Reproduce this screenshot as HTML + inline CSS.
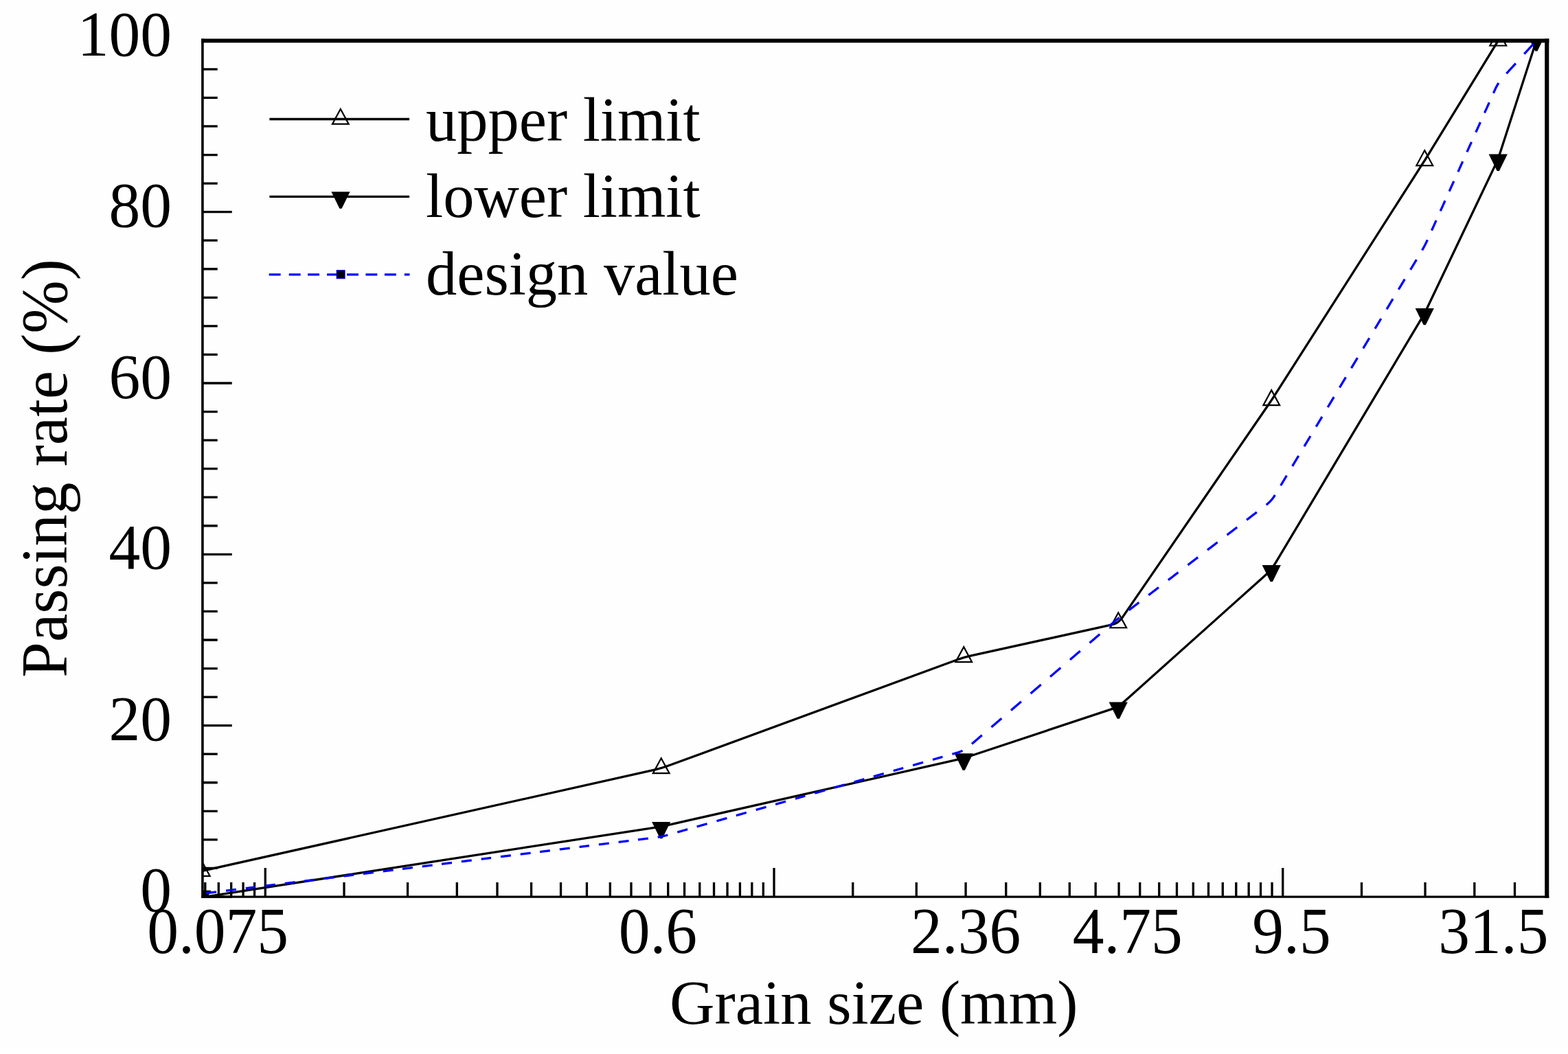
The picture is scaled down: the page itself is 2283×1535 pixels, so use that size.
<!DOCTYPE html><html><head><meta charset="utf-8"><title>Grain size distribution</title><style>html,body{margin:0;padding:0;background:#fff;overflow:hidden;width:2283px;height:1535px;}svg{display:block;}text{font-family:'Liberation Serif',serif;fill:#000;}</style></head><body>
<svg width="2283" height="1535" viewBox="0 0 2283 1535">
<rect x="0" y="0" width="2283" height="1527" fill="#fefefe"/>
<rect x="0" y="1527" width="2283" height="8" fill="#ffffff"/>
<defs><clipPath id="pc"><rect x="295.0" y="59.3" width="1957.3" height="1246.7"/></clipPath></defs>
<path d="M295.0 1306.00 H337.7 M295.0 1264.44 H316.7 M295.0 1222.89 H316.7 M295.0 1181.33 H316.7 M295.0 1139.77 H316.7 M295.0 1098.22 H316.7 M295.0 1056.66 H337.7 M295.0 1015.10 H316.7 M295.0 973.55 H316.7 M295.0 931.99 H316.7 M295.0 890.43 H316.7 M295.0 848.88 H316.7 M295.0 807.32 H337.7 M295.0 765.76 H316.7 M295.0 724.21 H316.7 M295.0 682.65 H316.7 M295.0 641.09 H316.7 M295.0 599.54 H316.7 M295.0 557.98 H337.7 M295.0 516.42 H316.7 M295.0 474.87 H316.7 M295.0 433.31 H316.7 M295.0 391.75 H316.7 M295.0 350.20 H316.7 M295.0 308.64 H337.7 M295.0 267.08 H316.7 M295.0 225.53 H316.7 M295.0 183.97 H316.7 M295.0 142.41 H316.7 M295.0 100.86 H316.7 M298.77 1306.0 V1285.0 M318.27 1306.0 V1285.0 M336.66 1306.0 V1285.0 M354.05 1306.0 V1285.0 M370.55 1306.0 V1285.0 M500.99 1306.0 V1285.0 M593.54 1306.0 V1285.0 M665.33 1306.0 V1285.0 M723.98 1306.0 V1285.0 M773.57 1306.0 V1285.0 M816.53 1306.0 V1285.0 M854.42 1306.0 V1285.0 M888.32 1306.0 V1285.0 M918.98 1306.0 V1285.0 M946.97 1306.0 V1285.0 M972.72 1306.0 V1285.0 M996.56 1306.0 V1285.0 M1018.76 1306.0 V1285.0 M1039.52 1306.0 V1285.0 M1059.02 1306.0 V1285.0 M1077.41 1306.0 V1285.0 M1094.80 1306.0 V1285.0 M1111.30 1306.0 V1285.0 M1241.74 1306.0 V1285.0 M1334.29 1306.0 V1285.0 M1406.08 1306.0 V1285.0 M1464.73 1306.0 V1285.0 M1514.32 1306.0 V1285.0 M1557.28 1306.0 V1285.0 M1595.17 1306.0 V1285.0 M1629.07 1306.0 V1285.0 M1659.73 1306.0 V1285.0 M1687.72 1306.0 V1285.0 M1713.47 1306.0 V1285.0 M1737.31 1306.0 V1285.0 M1759.51 1306.0 V1285.0 M1780.27 1306.0 V1285.0 M1799.77 1306.0 V1285.0 M1818.16 1306.0 V1285.0 M1835.55 1306.0 V1285.0 M1852.05 1306.0 V1285.0 M1982.49 1306.0 V1285.0 M2075.04 1306.0 V1285.0 M2146.83 1306.0 V1285.0 M2205.48 1306.0 V1285.0 M386.25 1306.0 V1264.0 M1127.00 1306.0 V1264.0 M1867.75 1306.0 V1264.0" fill="none" stroke="#000" stroke-width="3.3"/>
<g clip-path="url(#pc)">
<path d="M293.70 1268.60 L952.91 1121.18 Q962.67 1119.00 972.05 1115.55 L1393.85 960.75 Q1403.23 957.30 1413.00 955.15 L1618.49 909.95 Q1628.26 907.80 1633.92 899.56 L1845.59 591.24 Q1851.25 583.00 1856.63 574.57 L2068.85 242.23 Q2074.24 233.80 2079.47 225.28 L2181.27 59.30" fill="none" stroke="#000" stroke-width="3.3" stroke-linejoin="round"/>
<path d="M293.70 1253.80 L305.60 1275.80 L281.80 1275.80 Z" fill="none" stroke="#000" stroke-width="2.2" stroke-linejoin="miter"/>
<path d="M962.67 1104.19 L974.57 1126.19 L950.77 1126.19 Z" fill="none" stroke="#000" stroke-width="2.2" stroke-linejoin="miter"/>
<path d="M1403.23 942.12 L1415.13 964.12 L1391.33 964.12 Z" fill="none" stroke="#000" stroke-width="2.2" stroke-linejoin="miter"/>
<path d="M1628.26 892.26 L1640.16 914.26 L1616.36 914.26 Z" fill="none" stroke="#000" stroke-width="2.2" stroke-linejoin="miter"/>
<path d="M1851.25 568.11 L1863.15 590.11 L1839.35 590.11 Z" fill="none" stroke="#000" stroke-width="2.2" stroke-linejoin="miter"/>
<path d="M2074.24 219.04 L2086.14 241.04 L2062.34 241.04 Z" fill="none" stroke="#000" stroke-width="2.2" stroke-linejoin="miter"/>
<path d="M2181.27 44.50 L2193.17 66.50 L2169.37 66.50 Z" fill="none" stroke="#000" stroke-width="2.2" stroke-linejoin="miter"/>
<path d="M293.70 1306.80 L952.78 1205.32 Q962.67 1203.80 972.42 1201.59 L1393.48 1106.41 Q1403.23 1104.20 1412.73 1101.05 L1618.77 1032.65 Q1628.26 1029.50 1635.71 1022.83 L1843.80 836.47 Q1851.25 829.80 1856.37 821.21 L2069.11 464.89 Q2074.24 456.30 2078.54 447.27 L2176.97 240.63 Q2181.27 231.60 2184.34 222.08 L2236.87 59.30" fill="none" stroke="#000" stroke-width="3.3" stroke-linejoin="round"/>
<path d="M280.10 1296.70 L307.30 1296.70 L295.30 1321.10 L292.10 1321.10 Z" fill="#000"/>
<path d="M949.07 1196.96 L976.27 1196.96 L964.27 1221.36 L961.07 1221.36 Z" fill="#000"/>
<path d="M1389.63 1097.23 L1416.83 1097.23 L1404.83 1121.63 L1401.63 1121.63 Z" fill="#000"/>
<path d="M1614.66 1022.43 L1641.86 1022.43 L1629.86 1046.83 L1626.66 1046.83 Z" fill="#000"/>
<path d="M1837.65 822.95 L1864.85 822.95 L1852.85 847.35 L1849.65 847.35 Z" fill="#000"/>
<path d="M2060.64 448.94 L2087.84 448.94 L2075.84 473.34 L2072.64 473.34 Z" fill="#000"/>
<path d="M2167.67 224.54 L2194.87 224.54 L2182.87 248.94 L2179.67 248.94 Z" fill="#000"/>
<path d="M2223.27 50.00 L2250.47 50.00 L2238.47 74.40 L2235.27 74.40 Z" fill="#000"/>
<path d="M300.15 1300.80 L300.65 1300.74 L301.15 1300.68 L301.64 1300.62 L302.14 1300.55 L302.63 1300.49 L303.13 1300.43 L303.63 1300.37 L304.12 1300.31 L304.62 1300.25 L305.12 1300.19 L305.61 1300.12 L306.11 1300.06 L306.60 1300.00 L307.10 1299.94 L307.60 1299.88 L308.09 1299.82 L308.59 1299.76 L309.09 1299.69 L309.58 1299.63 L310.08 1299.57 L310.57 1299.51 L311.07 1299.45 L311.57 1299.39 L312.06 1299.32 L312.56 1299.26 L313.06 1299.20 L313.55 1299.14 L314.05 1299.08 L314.54 1299.02 L315.04 1298.96 M328.94 1297.23 L329.43 1297.17 L329.93 1297.11 L330.43 1297.05 L330.92 1296.99 L331.42 1296.93 L331.91 1296.86 L332.41 1296.80 L332.91 1296.74 L333.40 1296.68 L333.90 1296.62 L334.40 1296.56 L334.89 1296.50 L335.39 1296.43 L335.88 1296.37 L336.38 1296.31 L336.88 1296.25 L337.37 1296.19 L337.87 1296.13 L338.37 1296.07 L338.86 1296.00 L339.36 1295.94 L339.85 1295.88 L340.35 1295.82 L340.85 1295.76 L341.34 1295.70 L341.84 1295.63 L342.34 1295.57 L342.83 1295.51 L343.33 1295.45 L343.82 1295.39 M357.72 1293.67 L358.22 1293.61 L358.71 1293.54 L359.21 1293.48 L359.70 1293.42 L360.20 1293.36 L360.70 1293.30 L361.19 1293.24 L361.69 1293.17 L362.19 1293.11 L362.68 1293.05 L363.18 1292.99 L363.67 1292.93 L364.17 1292.87 L364.67 1292.81 L365.16 1292.74 L365.66 1292.68 L366.16 1292.62 L366.65 1292.56 L367.15 1292.50 L367.65 1292.44 L368.14 1292.38 L368.64 1292.31 L369.13 1292.25 L369.63 1292.19 L370.13 1292.13 L370.62 1292.07 L371.12 1292.01 L371.62 1291.94 L372.11 1291.88 M386.01 1290.16 L386.50 1290.10 L387.00 1290.04 L387.50 1289.98 L387.99 1289.92 L388.49 1289.85 L388.98 1289.79 L389.48 1289.73 L389.98 1289.67 L390.47 1289.61 L390.97 1289.55 L391.47 1289.48 L391.96 1289.42 L392.46 1289.36 L392.95 1289.30 L393.45 1289.24 L393.95 1289.18 L394.44 1289.12 L394.94 1289.05 L395.44 1288.99 L395.93 1288.93 L396.43 1288.87 L396.92 1288.81 L397.42 1288.75 L397.92 1288.69 L398.41 1288.62 L398.91 1288.56 L399.41 1288.50 L399.90 1288.44 L400.40 1288.38 L400.89 1288.32 M414.79 1286.59 L415.29 1286.53 L415.78 1286.47 L416.28 1286.41 L416.78 1286.35 L417.27 1286.29 L417.77 1286.23 L418.26 1286.16 L418.76 1286.10 L419.26 1286.04 L419.75 1285.98 L420.25 1285.92 L420.75 1285.86 L421.24 1285.79 L421.74 1285.73 L422.23 1285.67 L422.73 1285.61 L423.23 1285.55 L423.72 1285.49 L424.22 1285.43 L424.72 1285.36 L425.21 1285.30 L425.71 1285.24 L426.20 1285.18 L426.70 1285.12 L427.20 1285.06 L427.69 1285.00 L428.19 1284.93 L428.69 1284.87 L429.18 1284.81 L429.68 1284.75 M443.08 1283.09 L443.57 1283.03 L444.07 1282.97 L444.57 1282.90 L445.06 1282.84 L445.56 1282.78 L446.05 1282.72 L446.55 1282.66 L447.05 1282.60 L447.54 1282.54 L448.04 1282.47 L448.54 1282.41 L449.03 1282.35 L449.53 1282.29 L450.03 1282.23 L450.52 1282.17 L451.02 1282.10 L451.51 1282.04 L452.01 1281.98 L452.51 1281.92 L453.00 1281.86 L453.50 1281.80 L454.00 1281.74 L454.49 1281.67 L454.99 1281.61 L455.48 1281.55 L455.98 1281.49 L456.48 1281.43 L456.97 1281.37 L457.47 1281.31 L457.97 1281.24 M471.86 1279.52 L472.36 1279.46 L472.85 1279.40 L473.35 1279.34 L473.85 1279.28 L474.34 1279.21 L474.84 1279.15 L475.33 1279.09 L475.83 1279.03 L476.33 1278.97 L476.82 1278.91 L477.32 1278.85 L477.82 1278.78 L478.31 1278.72 L478.81 1278.66 L479.30 1278.60 L479.80 1278.54 L480.30 1278.48 L480.79 1278.42 L481.29 1278.35 L481.79 1278.29 L482.28 1278.23 L482.78 1278.17 L483.27 1278.11 L483.77 1278.05 L484.27 1277.98 L484.76 1277.92 L485.26 1277.86 L485.76 1277.80 L486.25 1277.74 L486.75 1277.68 M500.64 1275.96 L501.14 1275.89 L501.64 1275.83 L502.13 1275.77 L502.63 1275.71 L503.13 1275.65 L503.62 1275.59 L504.12 1275.52 L504.61 1275.46 L505.11 1275.40 L505.61 1275.34 L506.10 1275.28 L506.60 1275.22 L507.10 1275.16 L507.59 1275.09 L508.09 1275.03 L508.58 1274.97 L509.08 1274.91 L509.58 1274.85 L510.07 1274.79 L510.57 1274.73 L511.07 1274.66 L511.56 1274.60 L512.06 1274.54 L512.55 1274.48 L513.05 1274.42 L513.55 1274.36 L514.04 1274.29 L514.54 1274.23 L515.04 1274.17 M528.93 1272.45 L529.43 1272.39 L529.92 1272.33 L530.42 1272.27 L530.92 1272.20 L531.41 1272.14 L531.91 1272.08 L532.41 1272.02 L532.90 1271.96 L533.40 1271.90 L533.89 1271.83 L534.39 1271.77 L534.89 1271.71 L535.38 1271.65 L535.88 1271.59 L536.38 1271.53 L536.87 1271.47 L537.37 1271.40 L537.86 1271.34 L538.36 1271.28 L538.86 1271.22 L539.35 1271.16 L539.85 1271.10 L540.35 1271.04 L540.84 1270.97 L541.34 1270.91 L541.83 1270.85 L542.33 1270.79 L542.83 1270.73 L543.32 1270.67 L543.82 1270.60 M557.71 1268.88 L558.21 1268.82 L558.71 1268.76 L559.20 1268.70 L559.70 1268.64 L560.20 1268.58 L560.69 1268.51 L561.19 1268.45 L561.68 1268.39 L562.18 1268.33 L562.68 1268.27 L563.17 1268.21 L563.67 1268.14 L564.17 1268.08 L564.66 1268.02 L565.16 1267.96 L565.65 1267.90 L566.15 1267.84 L566.65 1267.78 L567.14 1267.71 L567.64 1267.65 L568.14 1267.59 L568.63 1267.53 L569.13 1267.47 L569.62 1267.41 L570.12 1267.35 L570.62 1267.28 L571.11 1267.22 L571.61 1267.16 L572.11 1267.10 L572.60 1267.04 M586.00 1265.38 L586.50 1265.32 L586.99 1265.25 L587.49 1265.19 L587.99 1265.13 L588.48 1265.07 L588.98 1265.01 L589.48 1264.95 L589.97 1264.89 L590.47 1264.82 L590.96 1264.76 L591.46 1264.70 L591.96 1264.64 L592.45 1264.58 L592.95 1264.52 L593.45 1264.45 L593.94 1264.39 L594.44 1264.33 L594.93 1264.27 L595.43 1264.21 L595.93 1264.15 L596.42 1264.09 L596.92 1264.02 L597.42 1263.96 L597.91 1263.90 L598.41 1263.84 L598.90 1263.78 L599.40 1263.72 L599.90 1263.66 L600.39 1263.59 L600.89 1263.53 M614.79 1261.81 L615.28 1261.75 L615.78 1261.69 L616.27 1261.63 L616.77 1261.56 L617.27 1261.50 L617.76 1261.44 L618.26 1261.38 L618.76 1261.32 L619.25 1261.26 L619.75 1261.20 L620.24 1261.13 L620.74 1261.07 L621.24 1261.01 L621.73 1260.95 L622.23 1260.89 L622.73 1260.83 L623.22 1260.76 L623.72 1260.70 L624.21 1260.64 L624.71 1260.58 L625.21 1260.52 L625.70 1260.46 L626.20 1260.40 L626.70 1260.33 L627.19 1260.27 L627.69 1260.21 L628.18 1260.15 L628.68 1260.09 L629.18 1260.03 L629.67 1259.97 M643.07 1258.30 L643.57 1258.24 L644.06 1258.18 L644.56 1258.12 L645.06 1258.06 L645.55 1258.00 L646.05 1257.94 L646.55 1257.87 L647.04 1257.81 L647.54 1257.75 L648.03 1257.69 L648.53 1257.63 L649.03 1257.57 L649.52 1257.51 L650.02 1257.44 L650.52 1257.38 L651.01 1257.32 L651.51 1257.26 L652.00 1257.20 L652.50 1257.14 L653.00 1257.07 L653.49 1257.01 L653.99 1256.95 L654.49 1256.89 L654.98 1256.83 L655.48 1256.77 L655.98 1256.71 L656.47 1256.64 L656.97 1256.58 L657.46 1256.52 L657.96 1256.46 M671.86 1254.74 L672.35 1254.68 L672.85 1254.62 L673.34 1254.55 L673.84 1254.49 L674.34 1254.43 L674.83 1254.37 L675.33 1254.31 L675.83 1254.25 L676.32 1254.18 L676.82 1254.12 L677.31 1254.06 L677.81 1254.00 L678.31 1253.94 L678.80 1253.88 L679.30 1253.82 L679.80 1253.75 L680.29 1253.69 L680.79 1253.63 L681.28 1253.57 L681.78 1253.51 L682.28 1253.45 L682.77 1253.39 L683.27 1253.32 L683.77 1253.26 L684.26 1253.20 L684.76 1253.14 L685.25 1253.08 L685.75 1253.02 L686.25 1252.95 L686.74 1252.89 M700.64 1251.17 L701.14 1251.11 L701.63 1251.05 L702.13 1250.99 L702.62 1250.93 L703.12 1250.86 L703.62 1250.80 L704.11 1250.74 L704.61 1250.68 L705.11 1250.62 L705.60 1250.56 L706.10 1250.49 L706.59 1250.43 L707.09 1250.37 L707.59 1250.31 L708.08 1250.25 L708.58 1250.19 L709.08 1250.13 L709.57 1250.06 L710.07 1250.00 L710.56 1249.94 L711.06 1249.88 L711.56 1249.82 L712.05 1249.76 L712.55 1249.70 L713.05 1249.63 L713.54 1249.57 L714.04 1249.51 L714.53 1249.45 L715.03 1249.39 M728.93 1247.67 L729.42 1247.60 L729.92 1247.54 L730.41 1247.48 L730.91 1247.42 L731.41 1247.36 L731.90 1247.30 L732.40 1247.24 L732.90 1247.17 L733.39 1247.11 L733.89 1247.05 L734.38 1246.99 L734.88 1246.93 L735.38 1246.87 L735.87 1246.80 L736.37 1246.74 L736.87 1246.68 L737.36 1246.62 L737.86 1246.56 L738.36 1246.50 L738.85 1246.44 L739.35 1246.37 L739.84 1246.31 L740.34 1246.25 L740.84 1246.19 L741.33 1246.13 L741.83 1246.07 L742.33 1246.01 L742.82 1245.94 L743.32 1245.88 L743.81 1245.82 M757.71 1244.10 L758.21 1244.04 L758.70 1243.98 L759.20 1243.91 L759.69 1243.85 L760.19 1243.79 L760.69 1243.73 L761.18 1243.67 L761.68 1243.61 L762.18 1243.55 L762.67 1243.48 L763.17 1243.42 L763.66 1243.36 L764.16 1243.30 L764.66 1243.24 L765.15 1243.18 L765.65 1243.11 L766.15 1243.05 L766.64 1242.99 L767.14 1242.93 L767.63 1242.87 L768.13 1242.81 L768.63 1242.75 L769.12 1242.68 L769.62 1242.62 L770.12 1242.56 L770.61 1242.50 L771.11 1242.44 L771.60 1242.38 L772.10 1242.32 L772.60 1242.25 M786.00 1240.59 L786.49 1240.53 L786.99 1240.47 L787.49 1240.41 L787.98 1240.35 L788.48 1240.29 L788.97 1240.22 L789.47 1240.16 L789.97 1240.10 L790.46 1240.04 L790.96 1239.98 L791.46 1239.92 L791.95 1239.86 L792.45 1239.79 L792.94 1239.73 L793.44 1239.67 L793.94 1239.61 L794.43 1239.55 L794.93 1239.49 L795.43 1239.42 L795.92 1239.36 L796.42 1239.30 L796.91 1239.24 L797.41 1239.18 L797.91 1239.12 L798.40 1239.06 L798.90 1238.99 L799.40 1238.93 L799.89 1238.87 L800.39 1238.81 L800.88 1238.75 M814.78 1237.03 L815.28 1236.96 L815.77 1236.90 L816.27 1236.84 L816.76 1236.78 L817.26 1236.72 L817.76 1236.66 L818.25 1236.60 L818.75 1236.53 L819.25 1236.47 L819.74 1236.41 L820.24 1236.35 L820.73 1236.29 L821.23 1236.23 L821.73 1236.17 L822.22 1236.10 L822.72 1236.04 L823.22 1235.98 L823.71 1235.92 L824.21 1235.86 L824.71 1235.80 L825.20 1235.73 L825.70 1235.67 L826.19 1235.61 L826.69 1235.55 L827.19 1235.49 L827.68 1235.43 L828.18 1235.37 L828.68 1235.30 L829.17 1235.24 L829.67 1235.18 M843.56 1233.46 L844.06 1233.40 L844.56 1233.34 L845.05 1233.28 L845.55 1233.21 L846.04 1233.15 L846.54 1233.09 L847.04 1233.03 L847.53 1232.97 L848.03 1232.91 L848.53 1232.84 L849.02 1232.78 L849.52 1232.72 L850.01 1232.66 L850.51 1232.60 L851.01 1232.54 L851.50 1232.48 L852.00 1232.41 L852.50 1232.35 L852.99 1232.29 L853.49 1232.23 L853.98 1232.17 L854.48 1232.11 L854.98 1232.05 L855.47 1231.98 L855.97 1231.92 L856.47 1231.86 L856.96 1231.80 L857.46 1231.74 L857.95 1231.68 M871.85 1229.95 L872.35 1229.89 L872.84 1229.83 L873.34 1229.77 L873.84 1229.71 L874.33 1229.65 L874.83 1229.59 L875.32 1229.52 L875.82 1229.46 L876.32 1229.40 L876.81 1229.34 L877.31 1229.28 L877.81 1229.22 L878.30 1229.15 L878.80 1229.09 L879.29 1229.03 L879.79 1228.97 L880.29 1228.91 L880.78 1228.85 L881.28 1228.79 L881.78 1228.72 L882.27 1228.66 L882.77 1228.60 L883.26 1228.54 L883.76 1228.48 L884.26 1228.42 L884.75 1228.36 L885.25 1228.29 L885.75 1228.23 L886.24 1228.17 L886.74 1228.11 M900.63 1226.39 L901.13 1226.33 L901.63 1226.26 L902.12 1226.20 L902.62 1226.14 L903.11 1226.08 L903.61 1226.02 L904.11 1225.96 L904.60 1225.90 L905.10 1225.83 L905.60 1225.77 L906.09 1225.71 L906.59 1225.65 L907.09 1225.59 L907.58 1225.53 L908.08 1225.46 L908.57 1225.40 L909.07 1225.34 L909.57 1225.28 L910.06 1225.22 L910.56 1225.16 L911.06 1225.10 L911.55 1225.03 L912.05 1224.97 L912.54 1224.91 L913.04 1224.85 L913.54 1224.79 L914.03 1224.73 L914.53 1224.67 L915.03 1224.60 L915.52 1224.54 M928.92 1222.88 L929.42 1222.82 L929.91 1222.76 L930.41 1222.70 L930.91 1222.64 L931.40 1222.57 L931.90 1222.51 L932.39 1222.45 L932.89 1222.39 L933.39 1222.33 L933.88 1222.27 L934.38 1222.21 L934.88 1222.14 L935.37 1222.08 L935.87 1222.02 L936.36 1221.96 L936.86 1221.90 L937.36 1221.84 L937.85 1221.77 L938.35 1221.71 L938.85 1221.65 L939.34 1221.59 L939.84 1221.53 L940.33 1221.47 L940.83 1221.41 L941.33 1221.34 L941.82 1221.28 L942.32 1221.22 L942.82 1221.16 L943.31 1221.10 L943.81 1221.04 M957.68 1219.22 L958.18 1219.14 L958.67 1219.06 L959.16 1218.97 L959.65 1218.88 L960.14 1218.80 L960.63 1218.71 L961.12 1218.61 L961.61 1218.52 L962.10 1218.42 L962.59 1218.32 L963.08 1218.22 L963.57 1218.12 L964.05 1218.02 L964.54 1217.91 L965.03 1217.81 L965.51 1217.70 L966.00 1217.58 L966.49 1217.47 L966.97 1217.36 L967.46 1217.24 L967.94 1217.12 L968.42 1217.00 L968.91 1216.88 L969.39 1216.75 L969.88 1216.63 L970.36 1216.50 L970.84 1216.37 L971.32 1216.24 L971.80 1216.10 L972.28 1215.97 M986.23 1212.00 L986.71 1211.87 L987.19 1211.73 L987.68 1211.59 L988.16 1211.46 L988.64 1211.32 L989.12 1211.18 L989.60 1211.05 L990.08 1210.91 L990.56 1210.77 L991.04 1210.64 L991.52 1210.50 L992.00 1210.36 L992.49 1210.23 L992.97 1210.09 L993.45 1209.95 L993.93 1209.82 L994.41 1209.68 L994.89 1209.54 L995.37 1209.41 L995.85 1209.27 L996.33 1209.13 L996.81 1209.00 L997.30 1208.86 L997.78 1208.72 L998.26 1208.59 L998.74 1208.45 L999.22 1208.31 L999.70 1208.18 L1000.18 1208.04 L1000.66 1207.90 L1001.14 1207.77 M1014.61 1203.94 L1015.09 1203.80 L1015.57 1203.67 L1016.05 1203.53 L1016.53 1203.39 L1017.01 1203.26 L1017.50 1203.12 L1017.98 1202.98 L1018.46 1202.85 L1018.94 1202.71 L1019.42 1202.57 L1019.90 1202.43 L1020.38 1202.30 L1020.86 1202.16 L1021.34 1202.02 L1021.82 1201.89 L1022.31 1201.75 L1022.79 1201.61 L1023.27 1201.48 L1023.75 1201.34 L1024.23 1201.20 L1024.71 1201.07 L1025.19 1200.93 L1025.67 1200.79 L1026.15 1200.66 L1026.63 1200.52 L1027.12 1200.38 L1027.60 1200.25 L1028.08 1200.11 L1028.56 1199.97 L1029.04 1199.84 L1029.52 1199.70 M1043.47 1195.74 L1043.95 1195.60 L1044.43 1195.46 L1044.91 1195.33 L1045.39 1195.19 L1045.87 1195.05 L1046.35 1194.92 L1046.84 1194.78 L1047.32 1194.64 L1047.80 1194.51 L1048.28 1194.37 L1048.76 1194.23 L1049.24 1194.10 L1049.72 1193.96 L1050.20 1193.82 L1050.68 1193.69 L1051.16 1193.55 L1051.64 1193.41 L1052.13 1193.28 L1052.61 1193.14 L1053.09 1193.00 L1053.57 1192.87 L1054.05 1192.73 L1054.53 1192.59 L1055.01 1192.46 L1055.49 1192.32 L1055.97 1192.18 L1056.45 1192.05 L1056.94 1191.91 L1057.42 1191.77 L1057.90 1191.64 L1058.38 1191.50 M1071.85 1187.67 L1072.33 1187.54 L1072.81 1187.40 L1073.29 1187.26 L1073.77 1187.13 L1074.25 1186.99 L1074.73 1186.85 L1075.21 1186.72 L1075.69 1186.58 L1076.17 1186.44 L1076.66 1186.31 L1077.14 1186.17 L1077.62 1186.03 L1078.10 1185.90 L1078.58 1185.76 L1079.06 1185.62 L1079.54 1185.49 L1080.02 1185.35 L1080.50 1185.21 L1080.98 1185.08 L1081.47 1184.94 L1081.95 1184.80 L1082.43 1184.67 L1082.91 1184.53 L1083.39 1184.39 L1083.87 1184.26 L1084.35 1184.12 L1084.83 1183.98 L1085.31 1183.85 L1085.79 1183.71 L1086.27 1183.57 L1086.76 1183.44 M1100.70 1179.47 L1101.18 1179.34 L1101.67 1179.20 L1102.15 1179.06 L1102.63 1178.93 L1103.11 1178.79 L1103.59 1178.65 L1104.07 1178.52 L1104.55 1178.38 L1105.03 1178.24 L1105.51 1178.11 L1105.99 1177.97 L1106.48 1177.83 L1106.96 1177.70 L1107.44 1177.56 L1107.92 1177.42 L1108.40 1177.29 L1108.88 1177.15 L1109.36 1177.01 L1109.84 1176.88 L1110.32 1176.74 L1110.80 1176.60 L1111.29 1176.47 L1111.77 1176.33 L1112.25 1176.19 L1112.73 1176.06 L1113.21 1175.92 L1113.69 1175.78 L1114.17 1175.65 L1114.65 1175.51 L1115.13 1175.37 L1115.61 1175.24 M1129.08 1171.41 L1129.56 1171.27 L1130.04 1171.13 L1130.52 1171.00 L1131.01 1170.86 L1131.49 1170.72 L1131.97 1170.59 L1132.45 1170.45 L1132.93 1170.31 L1133.41 1170.18 L1133.89 1170.04 L1134.37 1169.90 L1134.85 1169.77 L1135.33 1169.63 L1135.81 1169.49 L1136.30 1169.36 L1136.78 1169.22 L1137.26 1169.08 L1137.74 1168.95 L1138.22 1168.81 L1138.70 1168.67 L1139.18 1168.54 L1139.66 1168.40 L1140.14 1168.26 L1140.62 1168.13 L1141.11 1167.99 L1141.59 1167.85 L1142.07 1167.72 L1142.55 1167.58 L1143.03 1167.44 L1143.51 1167.31 L1143.99 1167.17 M1157.94 1163.21 L1158.42 1163.07 L1158.90 1162.93 L1159.38 1162.80 L1159.86 1162.66 L1160.34 1162.52 L1160.83 1162.39 L1161.31 1162.25 L1161.79 1162.11 L1162.27 1161.98 L1162.75 1161.84 L1163.23 1161.70 L1163.71 1161.57 L1164.19 1161.43 L1164.67 1161.29 L1165.15 1161.16 L1165.64 1161.02 L1166.12 1160.88 L1166.60 1160.75 L1167.08 1160.61 L1167.56 1160.47 L1168.04 1160.34 L1168.52 1160.20 L1169.00 1160.06 L1169.48 1159.93 L1169.96 1159.79 L1170.44 1159.65 L1170.93 1159.52 L1171.41 1159.38 L1171.89 1159.24 L1172.37 1159.11 M1186.32 1155.14 L1186.80 1155.01 L1187.28 1154.87 L1187.76 1154.73 L1188.24 1154.60 L1188.72 1154.46 L1189.20 1154.32 L1189.68 1154.19 L1190.16 1154.05 L1190.65 1153.91 L1191.13 1153.78 L1191.61 1153.64 L1192.09 1153.50 L1192.57 1153.37 L1193.05 1153.23 L1193.53 1153.09 L1194.01 1152.96 L1194.49 1152.82 L1194.97 1152.68 L1195.46 1152.55 L1195.94 1152.41 L1196.42 1152.27 L1196.90 1152.14 L1197.38 1152.00 L1197.86 1151.86 L1198.34 1151.73 L1198.82 1151.59 L1199.30 1151.45 L1199.78 1151.32 L1200.27 1151.18 L1200.75 1151.04 L1201.23 1150.91 M1214.69 1147.08 L1215.18 1146.94 L1215.66 1146.81 L1216.14 1146.67 L1216.62 1146.53 L1217.10 1146.40 L1217.58 1146.26 L1218.06 1146.12 L1218.54 1145.99 L1219.02 1145.85 L1219.50 1145.71 L1219.98 1145.58 L1220.47 1145.44 L1220.95 1145.30 L1221.43 1145.17 L1221.91 1145.03 L1222.39 1144.89 L1222.87 1144.76 L1223.35 1144.62 L1223.83 1144.48 L1224.31 1144.35 L1224.79 1144.21 L1225.28 1144.07 L1225.76 1143.94 L1226.24 1143.80 L1226.72 1143.66 L1227.20 1143.53 L1227.68 1143.39 L1228.16 1143.25 L1228.64 1143.12 L1229.12 1142.98 L1229.60 1142.84 M1243.55 1138.88 L1244.03 1138.74 L1244.51 1138.60 L1245.00 1138.47 L1245.48 1138.33 L1245.96 1138.19 L1246.44 1138.06 L1246.92 1137.92 L1247.40 1137.78 L1247.88 1137.65 L1248.36 1137.51 L1248.84 1137.37 L1249.32 1137.24 L1249.81 1137.10 L1250.29 1136.96 L1250.77 1136.83 L1251.25 1136.69 L1251.73 1136.55 L1252.21 1136.42 L1252.69 1136.28 L1253.17 1136.14 L1253.65 1136.01 L1254.13 1135.87 L1254.61 1135.73 L1255.10 1135.60 L1255.58 1135.46 L1256.06 1135.32 L1256.54 1135.19 L1257.02 1135.05 L1257.50 1134.91 L1257.98 1134.78 L1258.46 1134.64 M1271.93 1130.81 L1272.41 1130.68 L1272.89 1130.54 L1273.37 1130.40 L1273.85 1130.27 L1274.33 1130.13 L1274.82 1129.99 L1275.30 1129.86 L1275.78 1129.72 L1276.26 1129.58 L1276.74 1129.45 L1277.22 1129.31 L1277.70 1129.17 L1278.18 1129.04 L1278.66 1128.90 L1279.14 1128.76 L1279.63 1128.63 L1280.11 1128.49 L1280.59 1128.35 L1281.07 1128.22 L1281.55 1128.08 L1282.03 1127.94 L1282.51 1127.81 L1282.99 1127.67 L1283.47 1127.53 L1283.95 1127.40 L1284.43 1127.26 L1284.92 1127.12 L1285.40 1126.99 L1285.88 1126.85 L1286.36 1126.71 L1286.84 1126.58 M1300.79 1122.61 L1301.27 1122.48 L1301.75 1122.34 L1302.23 1122.20 L1302.71 1122.07 L1303.19 1121.93 L1303.67 1121.79 L1304.15 1121.66 L1304.64 1121.52 L1305.12 1121.38 L1305.60 1121.25 L1306.08 1121.11 L1306.56 1120.97 L1307.04 1120.84 L1307.52 1120.70 L1308.00 1120.56 L1308.48 1120.43 L1308.96 1120.29 L1309.45 1120.15 L1309.93 1120.02 L1310.41 1119.88 L1310.89 1119.74 L1311.37 1119.61 L1311.85 1119.47 L1312.33 1119.33 L1312.81 1119.20 L1313.29 1119.06 L1313.77 1118.92 L1314.26 1118.79 L1314.74 1118.65 L1315.22 1118.51 M1329.17 1114.55 L1329.65 1114.41 L1330.13 1114.28 L1330.61 1114.14 L1331.09 1114.00 L1331.57 1113.87 L1332.05 1113.73 L1332.53 1113.59 L1333.01 1113.46 L1333.49 1113.32 L1333.98 1113.18 L1334.46 1113.05 L1334.94 1112.91 L1335.42 1112.77 L1335.90 1112.64 L1336.38 1112.50 L1336.86 1112.36 L1337.34 1112.23 L1337.82 1112.09 L1338.30 1111.95 L1338.78 1111.82 L1339.27 1111.68 L1339.75 1111.54 L1340.23 1111.41 L1340.71 1111.27 L1341.19 1111.13 L1341.67 1111.00 L1342.15 1110.86 L1342.63 1110.72 L1343.11 1110.59 L1343.59 1110.45 L1344.08 1110.31 M1358.02 1106.35 L1358.50 1106.21 L1358.99 1106.07 L1359.47 1105.94 L1359.95 1105.80 L1360.43 1105.66 L1360.91 1105.53 L1361.39 1105.39 L1361.87 1105.25 L1362.35 1105.12 L1362.83 1104.98 L1363.31 1104.84 L1363.80 1104.71 L1364.28 1104.57 L1364.76 1104.43 L1365.24 1104.30 L1365.72 1104.16 L1366.20 1104.02 L1366.68 1103.89 L1367.16 1103.75 L1367.64 1103.61 L1368.12 1103.48 L1368.60 1103.34 L1369.09 1103.20 L1369.57 1103.07 L1370.05 1102.93 L1370.53 1102.79 L1371.01 1102.66 L1371.49 1102.52 L1371.97 1102.38 L1372.45 1102.25 M1386.40 1098.28 L1386.88 1098.15 L1387.36 1098.01 L1387.84 1097.87 L1388.32 1097.74 L1388.81 1097.60 L1389.29 1097.46 L1389.77 1097.33 L1390.25 1097.19 L1390.73 1097.05 L1391.21 1096.92 L1391.69 1096.78 L1392.17 1096.64 L1392.65 1096.51 L1393.13 1096.37 L1393.62 1096.23 L1394.10 1096.09 L1394.57 1095.95 L1395.05 1095.80 L1395.52 1095.65 L1395.99 1095.49 L1396.46 1095.33 L1396.92 1095.16 L1397.38 1094.99 L1397.84 1094.81 L1398.30 1094.63 L1398.75 1094.44 L1399.20 1094.25 L1399.65 1094.06 L1400.10 1093.86 L1400.54 1093.65 L1400.99 1093.44 L1401.43 1093.23 M1415.01 1083.40 L1415.39 1083.08 L1415.77 1082.75 L1416.15 1082.43 L1416.53 1082.10 L1416.91 1081.77 L1417.29 1081.45 L1417.67 1081.12 L1418.05 1080.79 L1418.43 1080.47 L1418.81 1080.14 L1419.19 1079.82 L1419.57 1079.49 L1419.95 1079.16 L1420.33 1078.84 L1420.71 1078.51 L1421.09 1078.19 L1421.47 1077.86 L1421.85 1077.53 L1422.23 1077.21 L1422.61 1076.88 L1422.99 1076.56 L1423.37 1076.23 L1423.75 1075.90 L1424.13 1075.58 L1424.51 1075.25 L1424.89 1074.93 L1425.27 1074.60 L1425.65 1074.27 L1426.03 1073.95 L1426.41 1073.62 L1426.79 1073.30 L1427.17 1072.97 L1427.55 1072.64 L1427.93 1072.32 L1428.31 1071.99 L1428.69 1071.67 L1429.07 1071.34 L1429.45 1071.01 L1429.83 1070.69 M1443.52 1058.95 L1443.90 1058.62 L1444.28 1058.30 L1444.66 1057.97 L1445.04 1057.65 L1445.42 1057.32 L1445.80 1056.99 L1446.18 1056.67 L1446.56 1056.34 L1446.94 1056.02 L1447.32 1055.69 L1447.70 1055.36 L1448.08 1055.04 L1448.46 1054.71 L1448.84 1054.38 L1449.22 1054.06 L1449.60 1053.73 L1449.98 1053.41 L1450.36 1053.08 L1450.74 1052.75 L1451.12 1052.43 L1451.50 1052.10 L1451.88 1051.78 L1452.26 1051.45 L1452.64 1051.12 L1453.02 1050.80 L1453.40 1050.47 L1453.78 1050.15 L1454.16 1049.82 L1454.54 1049.49 L1454.92 1049.17 L1455.30 1048.84 L1455.68 1048.52 L1456.06 1048.19 L1456.44 1047.86 L1456.82 1047.54 L1457.20 1047.21 L1457.58 1046.89 L1457.96 1046.56 L1458.34 1046.23 M1472.03 1034.50 L1472.41 1034.17 L1472.79 1033.84 L1473.17 1033.52 L1473.55 1033.19 L1473.93 1032.87 L1474.31 1032.54 L1474.69 1032.21 L1475.07 1031.89 L1475.45 1031.56 L1475.83 1031.24 L1476.21 1030.91 L1476.59 1030.58 L1476.97 1030.26 L1477.35 1029.93 L1477.73 1029.60 L1478.11 1029.28 L1478.49 1028.95 L1478.87 1028.63 L1479.25 1028.30 L1479.63 1027.97 L1480.01 1027.65 L1480.39 1027.32 L1480.77 1027.00 L1481.15 1026.67 L1481.53 1026.34 L1481.91 1026.02 L1482.29 1025.69 L1482.67 1025.37 L1483.05 1025.04 L1483.43 1024.71 L1483.81 1024.39 L1484.19 1024.06 L1484.58 1023.74 L1484.96 1023.41 L1485.34 1023.08 L1485.72 1022.76 L1486.10 1022.43 L1486.48 1022.11 L1486.86 1021.78 M1500.54 1010.04 L1500.92 1009.72 L1501.30 1009.39 L1501.68 1009.06 L1502.06 1008.74 L1502.44 1008.41 L1502.82 1008.09 L1503.20 1007.76 L1503.58 1007.43 L1503.96 1007.11 L1504.34 1006.78 L1504.72 1006.46 L1505.10 1006.13 L1505.48 1005.80 L1505.86 1005.48 L1506.24 1005.15 L1506.62 1004.83 L1507.00 1004.50 L1507.38 1004.17 L1507.76 1003.85 L1508.14 1003.52 L1508.52 1003.19 L1508.90 1002.87 L1509.29 1002.54 L1509.67 1002.22 L1510.05 1001.89 L1510.43 1001.56 L1510.81 1001.24 L1511.19 1000.91 L1511.57 1000.59 L1511.95 1000.26 L1512.33 999.93 L1512.71 999.61 L1513.09 999.28 L1513.47 998.96 L1513.85 998.63 L1514.23 998.30 L1514.61 997.98 L1514.99 997.65 L1515.37 997.33 L1515.75 997.00 M1529.05 985.59 L1529.43 985.26 L1529.81 984.94 L1530.19 984.61 L1530.57 984.28 L1530.95 983.96 L1531.33 983.63 L1531.71 983.31 L1532.09 982.98 L1532.47 982.65 L1532.85 982.33 L1533.23 982.00 L1533.61 981.68 L1534.00 981.35 L1534.38 981.02 L1534.76 980.70 L1535.14 980.37 L1535.52 980.05 L1535.90 979.72 L1536.28 979.39 L1536.66 979.07 L1537.04 978.74 L1537.42 978.42 L1537.80 978.09 L1538.18 977.76 L1538.56 977.44 L1538.94 977.11 L1539.32 976.78 L1539.70 976.46 L1540.08 976.13 L1540.46 975.81 L1540.84 975.48 L1541.22 975.15 L1541.60 974.83 L1541.98 974.50 L1542.36 974.18 L1542.74 973.85 L1543.12 973.52 L1543.50 973.20 L1543.88 972.87 L1544.26 972.55 M1557.94 960.81 L1558.32 960.48 L1558.71 960.16 L1559.09 959.83 L1559.47 959.50 L1559.85 959.18 L1560.23 958.85 L1560.61 958.53 L1560.99 958.20 L1561.37 957.87 L1561.75 957.55 L1562.13 957.22 L1562.51 956.90 L1562.89 956.57 L1563.27 956.24 L1563.65 955.92 L1564.03 955.59 L1564.41 955.27 L1564.79 954.94 L1565.17 954.61 L1565.55 954.29 L1565.93 953.96 L1566.31 953.64 L1566.69 953.31 L1567.07 952.98 L1567.45 952.66 L1567.83 952.33 L1568.21 952.01 L1568.59 951.68 L1568.97 951.35 L1569.35 951.03 L1569.73 950.70 L1570.11 950.37 L1570.49 950.05 L1570.87 949.72 L1571.25 949.40 L1571.63 949.07 L1572.01 948.74 L1572.39 948.42 L1572.77 948.09 M1586.46 936.35 L1586.84 936.03 L1587.22 935.70 L1587.60 935.38 L1587.98 935.05 L1588.36 934.72 L1588.74 934.40 L1589.12 934.07 L1589.50 933.75 L1589.88 933.42 L1590.26 933.09 L1590.64 932.77 L1591.02 932.44 L1591.40 932.12 L1591.78 931.79 L1592.16 931.46 L1592.54 931.14 L1592.92 930.81 L1593.30 930.49 L1593.68 930.16 L1594.06 929.83 L1594.44 929.51 L1594.82 929.18 L1595.20 928.86 L1595.58 928.53 L1595.96 928.20 L1596.34 927.88 L1596.72 927.55 L1597.10 927.23 L1597.48 926.90 L1597.86 926.57 L1598.24 926.25 L1598.62 925.92 L1599.00 925.60 L1599.38 925.27 L1599.76 924.94 L1600.14 924.62 L1600.52 924.29 L1600.90 923.96 L1601.28 923.64 M1614.97 911.90 L1615.35 911.57 L1615.73 911.25 L1616.11 910.92 L1616.49 910.60 L1616.87 910.27 L1617.25 909.94 L1617.63 909.62 L1618.01 909.29 L1618.39 908.97 L1618.77 908.64 L1619.15 908.31 L1619.53 907.99 L1619.91 907.66 L1620.29 907.34 L1620.67 907.01 L1621.05 906.69 L1621.43 906.36 L1621.81 906.04 L1622.19 905.71 L1622.57 905.39 L1622.96 905.07 L1623.34 904.74 L1623.72 904.42 L1624.10 904.10 L1624.49 903.78 L1624.87 903.46 L1625.26 903.14 L1625.64 902.82 L1626.03 902.51 L1626.41 902.19 L1626.80 901.87 L1627.18 901.55 L1627.57 901.24 L1627.96 900.92 L1628.35 900.61 L1628.74 900.29 L1629.12 899.98 L1629.51 899.66 L1629.90 899.35 M1643.73 888.63 L1644.13 888.33 L1644.53 888.03 L1644.93 887.72 L1645.32 887.42 L1645.72 887.11 L1646.12 886.81 L1646.51 886.50 L1646.91 886.20 L1647.31 885.90 L1647.70 885.59 L1648.10 885.29 L1648.50 884.98 L1648.89 884.68 L1649.29 884.37 L1649.69 884.07 L1650.08 883.77 L1650.48 883.46 L1650.88 883.16 L1651.27 882.85 L1651.67 882.55 L1652.07 882.24 L1652.46 881.94 L1652.86 881.64 L1653.26 881.33 L1653.65 881.03 L1654.05 880.72 L1654.45 880.42 L1654.84 880.11 L1655.24 879.81 L1655.64 879.51 L1656.03 879.20 L1656.43 878.90 L1656.83 878.59 L1657.23 878.29 L1657.62 877.98 L1658.02 877.68 L1658.42 877.38 M1672.30 866.73 L1672.70 866.42 L1673.10 866.12 L1673.49 865.81 L1673.89 865.51 L1674.29 865.20 L1674.68 864.90 L1675.08 864.60 L1675.48 864.29 L1675.87 863.99 L1676.27 863.68 L1676.67 863.38 L1677.06 863.07 L1677.46 862.77 L1677.86 862.47 L1678.25 862.16 L1678.65 861.86 L1679.05 861.55 L1679.44 861.25 L1679.84 860.94 L1680.24 860.64 L1680.64 860.34 L1681.03 860.03 L1681.43 859.73 L1681.83 859.42 L1682.22 859.12 L1682.62 858.82 L1683.02 858.51 L1683.41 858.21 L1683.81 857.90 L1684.21 857.60 L1684.60 857.29 L1685.00 856.99 L1685.40 856.69 L1685.79 856.38 L1686.19 856.08 L1686.59 855.77 L1686.98 855.47 M1700.87 844.82 L1701.27 844.51 L1701.66 844.21 L1702.06 843.91 L1702.46 843.60 L1702.85 843.30 L1703.25 842.99 L1703.65 842.69 L1704.04 842.38 L1704.44 842.08 L1704.84 841.78 L1705.24 841.47 L1705.63 841.17 L1706.03 840.86 L1706.43 840.56 L1706.82 840.25 L1707.22 839.95 L1707.62 839.65 L1708.01 839.34 L1708.41 839.04 L1708.81 838.73 L1709.20 838.43 L1709.60 838.12 L1710.00 837.82 L1710.39 837.52 L1710.79 837.21 L1711.19 836.91 L1711.58 836.60 L1711.98 836.30 L1712.38 835.99 L1712.77 835.69 L1713.17 835.39 L1713.57 835.08 L1713.96 834.78 L1714.36 834.47 L1714.76 834.17 L1715.15 833.86 L1715.55 833.56 M1729.44 822.91 L1729.84 822.61 L1730.23 822.30 L1730.63 822.00 L1731.03 821.69 L1731.42 821.39 L1731.82 821.09 L1732.22 820.78 L1732.61 820.48 L1733.01 820.17 L1733.41 819.87 L1733.80 819.56 L1734.20 819.26 L1734.60 818.96 L1734.99 818.65 L1735.39 818.35 L1735.79 818.04 L1736.18 817.74 L1736.58 817.43 L1736.98 817.13 L1737.37 816.83 L1737.77 816.52 L1738.17 816.22 L1738.56 815.91 L1738.96 815.61 L1739.36 815.30 L1739.75 815.00 L1740.15 814.70 L1740.55 814.39 L1740.95 814.09 L1741.34 813.78 L1741.74 813.48 L1742.14 813.17 L1742.53 812.87 L1742.93 812.57 L1743.33 812.26 L1743.72 811.96 L1744.12 811.65 M1758.01 801.00 L1758.40 800.70 L1758.80 800.39 L1759.20 800.09 L1759.59 799.79 L1759.99 799.48 L1760.39 799.18 L1760.78 798.87 L1761.18 798.57 L1761.58 798.27 L1761.97 797.96 L1762.37 797.66 L1762.77 797.35 L1763.16 797.05 L1763.56 796.74 L1763.96 796.44 L1764.35 796.14 L1764.75 795.83 L1765.15 795.53 L1765.55 795.22 L1765.94 794.92 L1766.34 794.61 L1766.74 794.31 L1767.13 794.01 L1767.53 793.70 L1767.93 793.40 L1768.32 793.09 L1768.72 792.79 L1769.12 792.48 L1769.51 792.18 L1769.91 791.88 L1770.31 791.57 L1770.70 791.27 L1771.10 790.96 L1771.50 790.66 L1771.89 790.35 L1772.29 790.05 L1772.69 789.75 M1786.57 779.10 L1786.97 778.79 L1787.37 778.49 L1787.76 778.18 L1788.16 777.88 L1788.56 777.57 L1788.96 777.27 L1789.35 776.97 L1789.75 776.66 L1790.15 776.36 L1790.54 776.05 L1790.94 775.75 L1791.34 775.44 L1791.73 775.14 L1792.13 774.84 L1792.53 774.53 L1792.92 774.23 L1793.32 773.92 L1793.72 773.62 L1794.11 773.31 L1794.51 773.01 L1794.91 772.71 L1795.30 772.40 L1795.70 772.10 L1796.10 771.79 L1796.49 771.49 L1796.89 771.18 L1797.29 770.88 L1797.68 770.58 L1798.08 770.27 L1798.48 769.97 L1798.87 769.66 L1799.27 769.36 L1799.67 769.06 L1800.06 768.75 L1800.46 768.45 L1800.86 768.14 L1801.26 767.84 M1815.14 757.19 L1815.54 756.88 L1815.94 756.58 L1816.33 756.28 L1816.73 755.97 L1817.13 755.67 L1817.52 755.36 L1817.92 755.06 L1818.32 754.75 L1818.71 754.45 L1819.11 754.15 L1819.51 753.84 L1819.90 753.54 L1820.30 753.23 L1820.70 752.93 L1821.09 752.62 L1821.49 752.32 L1821.89 752.02 L1822.28 751.71 L1822.68 751.41 L1823.08 751.10 L1823.47 750.80 L1823.87 750.49 L1824.27 750.19 L1824.66 749.89 L1825.06 749.58 L1825.46 749.28 L1825.86 748.97 L1826.25 748.67 L1826.65 748.36 L1827.05 748.06 L1827.44 747.76 L1827.84 747.45 L1828.24 747.15 L1828.63 746.84 L1829.03 746.54 L1829.43 746.23 L1829.82 745.93 M1843.71 735.28 L1844.10 734.97 L1844.49 734.66 L1844.87 734.34 L1845.25 734.03 L1845.63 733.70 L1846.01 733.38 L1846.38 733.05 L1846.74 732.72 L1847.11 732.39 L1847.47 732.05 L1847.82 731.71 L1848.18 731.37 L1848.53 731.02 L1848.87 730.67 L1849.22 730.32 L1849.56 729.96 L1849.89 729.61 L1850.22 729.24 L1850.55 728.88 L1850.88 728.51 L1851.20 728.14 L1851.52 727.77 L1851.83 727.39 L1852.15 727.01 L1852.45 726.62 L1852.76 726.24 L1853.06 725.85 L1853.36 725.46 L1853.65 725.06 L1853.94 724.66 L1854.23 724.26 L1854.51 723.85 L1854.79 723.44 L1855.07 723.03 L1855.34 722.62 L1855.61 722.20 L1855.88 721.78 L1856.14 721.36 L1856.40 720.93 M1864.65 707.20 L1864.91 706.77 L1865.17 706.35 L1865.42 705.92 L1865.68 705.49 L1865.94 705.06 L1866.20 704.63 L1866.45 704.20 L1866.71 703.77 L1866.97 703.34 L1867.23 702.91 L1867.49 702.49 L1867.74 702.06 L1868.00 701.63 L1868.26 701.20 L1868.52 700.77 L1868.77 700.34 L1869.03 699.91 L1869.29 699.48 L1869.55 699.05 L1869.81 698.63 L1870.06 698.20 L1870.32 697.77 L1870.58 697.34 L1870.84 696.91 L1871.09 696.48 L1871.35 696.05 L1871.61 695.62 L1871.87 695.19 L1872.13 694.76 L1872.38 694.34 L1872.64 693.91 L1872.90 693.48 L1873.16 693.05 L1873.42 692.62 M1881.66 678.89 L1881.92 678.47 L1882.18 678.04 L1882.44 677.61 L1882.70 677.18 L1882.95 676.75 L1883.21 676.32 L1883.47 675.89 L1883.73 675.46 L1883.98 675.03 L1884.24 674.61 L1884.50 674.18 L1884.76 673.75 L1885.02 673.32 L1885.27 672.89 L1885.53 672.46 L1885.79 672.03 L1886.05 671.60 L1886.31 671.17 L1886.56 670.75 L1886.82 670.32 L1887.08 669.89 L1887.34 669.46 L1887.59 669.03 L1887.85 668.60 L1888.11 668.17 L1888.37 667.74 L1888.63 667.31 L1888.88 666.89 L1889.14 666.46 L1889.40 666.03 L1889.66 665.60 L1889.91 665.17 L1890.17 664.74 L1890.43 664.31 L1890.69 663.88 M1898.94 650.16 L1899.20 649.73 L1899.45 649.30 L1899.71 648.87 L1899.97 648.44 L1900.23 648.01 L1900.48 647.58 L1900.74 647.15 L1901.00 646.73 L1901.26 646.30 L1901.52 645.87 L1901.77 645.44 L1902.03 645.01 L1902.29 644.58 L1902.55 644.15 L1902.80 643.72 L1903.06 643.29 L1903.32 642.87 L1903.58 642.44 L1903.84 642.01 L1904.09 641.58 L1904.35 641.15 L1904.61 640.72 L1904.87 640.29 L1905.12 639.86 L1905.38 639.43 L1905.64 639.01 L1905.90 638.58 L1906.16 638.15 L1906.41 637.72 L1906.67 637.29 L1906.93 636.86 L1907.19 636.43 L1907.44 636.00 L1907.70 635.57 L1907.96 635.15 M1916.21 621.42 L1916.47 620.99 L1916.73 620.56 L1916.98 620.13 L1917.24 619.70 L1917.50 619.28 L1917.76 618.85 L1918.01 618.42 L1918.27 617.99 L1918.53 617.56 L1918.79 617.13 L1919.05 616.70 L1919.30 616.27 L1919.56 615.84 L1919.82 615.41 L1920.08 614.99 L1920.33 614.56 L1920.59 614.13 L1920.85 613.70 L1921.11 613.27 L1921.37 612.84 L1921.62 612.41 L1921.88 611.98 L1922.14 611.55 L1922.40 611.13 L1922.65 610.70 L1922.91 610.27 L1923.17 609.84 L1923.43 609.41 L1923.69 608.98 L1923.94 608.55 L1924.20 608.12 L1924.46 607.69 L1924.72 607.27 L1924.98 606.84 M1933.22 593.11 L1933.48 592.68 L1933.74 592.25 L1934.00 591.82 L1934.26 591.40 L1934.51 590.97 L1934.77 590.54 L1935.03 590.11 L1935.29 589.68 L1935.54 589.25 L1935.80 588.82 L1936.06 588.39 L1936.32 587.96 L1936.58 587.54 L1936.83 587.11 L1937.09 586.68 L1937.35 586.25 L1937.61 585.82 L1937.87 585.39 L1938.12 584.96 L1938.38 584.53 L1938.64 584.10 L1938.90 583.67 L1939.15 583.25 L1939.41 582.82 L1939.67 582.39 L1939.93 581.96 L1940.19 581.53 L1940.44 581.10 L1940.70 580.67 L1940.96 580.24 L1941.22 579.81 L1941.47 579.39 L1941.73 578.96 L1941.99 578.53 L1942.25 578.10 M1950.50 564.37 L1950.76 563.94 L1951.01 563.52 L1951.27 563.09 L1951.53 562.66 L1951.79 562.23 L1952.04 561.80 L1952.30 561.37 L1952.56 560.94 L1952.82 560.51 L1953.08 560.08 L1953.33 559.66 L1953.59 559.23 L1953.85 558.80 L1954.11 558.37 L1954.36 557.94 L1954.62 557.51 L1954.88 557.08 L1955.14 556.65 L1955.40 556.22 L1955.65 555.80 L1955.91 555.37 L1956.17 554.94 L1956.43 554.51 L1956.68 554.08 L1956.94 553.65 L1957.20 553.22 L1957.46 552.79 L1957.72 552.36 L1957.97 551.93 L1958.23 551.51 L1958.49 551.08 L1958.75 550.65 L1959.00 550.22 L1959.26 549.79 L1959.52 549.36 M1967.51 536.07 L1967.77 535.64 L1968.03 535.21 L1968.29 534.78 L1968.54 534.35 L1968.80 533.92 L1969.06 533.49 L1969.32 533.06 L1969.57 532.63 L1969.83 532.20 L1970.09 531.78 L1970.35 531.35 L1970.61 530.92 L1970.86 530.49 L1971.12 530.06 L1971.38 529.63 L1971.64 529.20 L1971.89 528.77 L1972.15 528.34 L1972.41 527.92 L1972.67 527.49 L1972.93 527.06 L1973.18 526.63 L1973.44 526.20 L1973.70 525.77 L1973.96 525.34 L1974.21 524.91 L1974.47 524.48 L1974.73 524.06 L1974.99 523.63 L1975.25 523.20 L1975.50 522.77 L1975.76 522.34 L1976.02 521.91 L1976.28 521.48 L1976.54 521.05 M1984.78 507.33 L1985.04 506.90 L1985.30 506.47 L1985.56 506.04 L1985.82 505.61 L1986.07 505.18 L1986.33 504.75 L1986.59 504.33 L1986.85 503.90 L1987.10 503.47 L1987.36 503.04 L1987.62 502.61 L1987.88 502.18 L1988.14 501.75 L1988.39 501.32 L1988.65 500.89 L1988.91 500.46 L1989.17 500.04 L1989.43 499.61 L1989.68 499.18 L1989.94 498.75 L1990.20 498.32 L1990.46 497.89 L1990.71 497.46 L1990.97 497.03 L1991.23 496.60 L1991.49 496.18 L1991.75 495.75 L1992.00 495.32 L1992.26 494.89 L1992.52 494.46 L1992.78 494.03 L1993.03 493.60 L1993.29 493.17 L1993.55 492.74 L1993.81 492.32 M2002.06 478.59 L2002.32 478.16 L2002.57 477.73 L2002.83 477.30 L2003.09 476.87 L2003.35 476.45 L2003.60 476.02 L2003.86 475.59 L2004.12 475.16 L2004.38 474.73 L2004.64 474.30 L2004.89 473.87 L2005.15 473.44 L2005.41 473.01 L2005.67 472.59 L2005.92 472.16 L2006.18 471.73 L2006.44 471.30 L2006.70 470.87 L2006.96 470.44 L2007.21 470.01 L2007.47 469.58 L2007.73 469.15 L2007.99 468.72 L2008.24 468.30 L2008.50 467.87 L2008.76 467.44 L2009.02 467.01 L2009.28 466.58 L2009.53 466.15 L2009.79 465.72 L2010.05 465.29 L2010.31 464.86 L2010.56 464.44 L2010.82 464.01 M2019.07 450.28 L2019.33 449.85 L2019.59 449.42 L2019.85 448.99 L2020.10 448.57 L2020.36 448.14 L2020.62 447.71 L2020.88 447.28 L2021.13 446.85 L2021.39 446.42 L2021.65 445.99 L2021.91 445.56 L2022.17 445.13 L2022.42 444.71 L2022.68 444.28 L2022.94 443.85 L2023.20 443.42 L2023.45 442.99 L2023.71 442.56 L2023.97 442.13 L2024.23 441.70 L2024.49 441.27 L2024.74 440.85 L2025.00 440.42 L2025.26 439.99 L2025.52 439.56 L2025.77 439.13 L2026.03 438.70 L2026.29 438.27 L2026.55 437.84 L2026.81 437.41 L2027.06 436.98 L2027.32 436.56 L2027.58 436.13 L2027.84 435.70 L2028.10 435.27 M2036.34 421.54 L2036.60 421.11 L2036.86 420.69 L2037.12 420.26 L2037.38 419.83 L2037.63 419.40 L2037.89 418.97 L2038.15 418.54 L2038.41 418.11 L2038.66 417.68 L2038.92 417.25 L2039.18 416.83 L2039.44 416.40 L2039.70 415.97 L2039.95 415.54 L2040.21 415.11 L2040.47 414.68 L2040.73 414.25 L2040.98 413.82 L2041.24 413.39 L2041.50 412.97 L2041.76 412.54 L2042.02 412.11 L2042.27 411.68 L2042.53 411.25 L2042.79 410.82 L2043.05 410.39 L2043.31 409.96 L2043.56 409.53 L2043.82 409.11 L2044.08 408.68 L2044.34 408.25 L2044.59 407.82 L2044.85 407.39 L2045.11 406.96 L2045.37 406.53 M2053.62 392.81 L2053.87 392.38 L2054.13 391.95 L2054.39 391.52 L2054.65 391.09 L2054.91 390.66 L2055.16 390.23 L2055.42 389.80 L2055.68 389.37 L2055.94 388.95 L2056.20 388.52 L2056.45 388.09 L2056.71 387.66 L2056.97 387.23 L2057.23 386.80 L2057.48 386.37 L2057.74 385.94 L2058.00 385.51 L2058.26 385.09 L2058.52 384.66 L2058.77 384.23 L2059.03 383.80 L2059.29 383.37 L2059.55 382.94 L2059.80 382.51 L2060.06 382.08 L2060.32 381.65 L2060.58 381.23 L2060.84 380.80 L2061.09 380.37 L2061.35 379.94 L2061.61 379.51 L2061.87 379.08 L2062.12 378.65 L2062.38 378.22 M2070.61 364.49 L2070.86 364.05 L2071.10 363.62 L2071.35 363.19 L2071.60 362.75 L2071.84 362.32 L2072.08 361.88 L2072.32 361.44 L2072.56 361.00 L2072.80 360.57 L2073.04 360.13 L2073.27 359.69 L2073.51 359.25 L2073.74 358.80 L2073.97 358.36 L2074.20 357.92 L2074.43 357.48 L2074.66 357.03 L2074.89 356.59 L2075.11 356.14 L2075.34 355.70 L2075.56 355.25 L2075.78 354.80 L2076.00 354.35 L2076.22 353.91 L2076.44 353.46 L2076.66 353.01 L2076.87 352.56 L2077.08 352.10 L2077.30 351.65 L2077.51 351.20 L2077.72 350.74 L2077.93 350.29 L2078.13 349.84 L2078.34 349.38 M2084.50 335.67 L2084.71 335.22 L2084.91 334.76 L2085.12 334.30 L2085.32 333.85 L2085.53 333.39 L2085.74 332.93 L2085.94 332.48 L2086.15 332.02 L2086.35 331.56 L2086.56 331.10 L2086.76 330.65 L2086.97 330.19 L2087.17 329.73 L2087.38 329.28 L2087.58 328.82 L2087.79 328.36 L2088.00 327.91 L2088.20 327.45 L2088.41 326.99 L2088.61 326.54 L2088.82 326.08 L2089.02 325.62 L2089.23 325.17 L2089.43 324.71 L2089.64 324.25 L2089.84 323.79 L2090.05 323.34 L2090.26 322.88 L2090.46 322.42 L2090.67 321.97 L2090.87 321.51 L2091.08 321.05 M2097.24 307.35 L2097.45 306.89 L2097.65 306.43 L2097.86 305.98 L2098.06 305.52 L2098.27 305.06 L2098.47 304.61 L2098.68 304.15 L2098.88 303.69 L2099.09 303.23 L2099.30 302.78 L2099.50 302.32 L2099.71 301.86 L2099.91 301.41 L2100.12 300.95 L2100.32 300.49 L2100.53 300.04 L2100.73 299.58 L2100.94 299.12 L2101.15 298.67 L2101.35 298.21 L2101.56 297.75 L2101.76 297.30 L2101.97 296.84 L2102.17 296.38 L2102.38 295.92 L2102.58 295.47 L2102.79 295.01 L2102.99 294.55 L2103.20 294.10 L2103.41 293.64 L2103.61 293.18 L2103.82 292.73 L2104.02 292.27 M2110.19 278.56 L2110.39 278.11 L2110.60 277.65 L2110.80 277.19 L2111.01 276.74 L2111.21 276.28 L2111.42 275.82 L2111.62 275.37 L2111.83 274.91 L2112.03 274.45 L2112.24 273.99 L2112.45 273.54 L2112.65 273.08 L2112.86 272.62 L2113.06 272.17 L2113.27 271.71 L2113.47 271.25 L2113.68 270.80 L2113.88 270.34 L2114.09 269.88 L2114.29 269.43 L2114.50 268.97 L2114.71 268.51 L2114.91 268.06 L2115.12 267.60 L2115.32 267.14 L2115.53 266.68 L2115.73 266.23 L2115.94 265.77 L2116.14 265.31 L2116.35 264.86 L2116.56 264.40 L2116.76 263.94 M2122.92 250.24 L2123.13 249.78 L2123.34 249.32 L2123.54 248.87 L2123.75 248.41 L2123.95 247.95 L2124.16 247.50 L2124.36 247.04 L2124.57 246.58 L2124.77 246.12 L2124.98 245.67 L2125.18 245.21 L2125.39 244.75 L2125.60 244.30 L2125.80 243.84 L2126.01 243.38 L2126.21 242.93 L2126.42 242.47 L2126.62 242.01 L2126.83 241.56 L2127.03 241.10 L2127.24 240.64 L2127.44 240.19 L2127.65 239.73 L2127.86 239.27 L2128.06 238.81 L2128.27 238.36 L2128.47 237.90 L2128.68 237.44 L2128.88 236.99 L2129.09 236.53 L2129.29 236.07 L2129.50 235.62 L2129.70 235.16 M2135.87 221.45 L2136.07 221.00 L2136.28 220.54 L2136.49 220.08 L2136.69 219.63 L2136.90 219.17 L2137.10 218.71 L2137.31 218.26 L2137.51 217.80 L2137.72 217.34 L2137.92 216.88 L2138.13 216.43 L2138.33 215.97 L2138.54 215.51 L2138.75 215.06 L2138.95 214.60 L2139.16 214.14 L2139.36 213.69 L2139.57 213.23 L2139.77 212.77 L2139.98 212.32 L2140.18 211.86 L2140.39 211.40 L2140.59 210.94 L2140.80 210.49 L2141.01 210.03 L2141.21 209.57 L2141.42 209.12 L2141.62 208.66 L2141.83 208.20 L2142.03 207.75 L2142.24 207.29 L2142.44 206.83 M2148.81 192.67 L2149.02 192.21 L2149.22 191.76 L2149.43 191.30 L2149.64 190.84 L2149.84 190.39 L2150.05 189.93 L2150.25 189.47 L2150.46 189.01 L2150.66 188.56 L2150.87 188.10 L2151.07 187.64 L2151.28 187.19 L2151.48 186.73 L2151.69 186.27 L2151.90 185.82 L2152.10 185.36 L2152.31 184.90 L2152.51 184.45 L2152.72 183.99 L2152.92 183.53 L2153.13 183.08 L2153.33 182.62 L2153.54 182.16 L2153.74 181.70 L2153.95 181.25 L2154.16 180.79 L2154.36 180.33 L2154.57 179.88 L2154.77 179.42 L2154.98 178.96 L2155.18 178.51 L2155.39 178.05 M2161.55 164.34 L2161.76 163.89 L2161.96 163.43 L2162.17 162.97 L2162.37 162.52 L2162.58 162.06 L2162.79 161.60 L2162.99 161.14 L2163.20 160.69 L2163.40 160.23 L2163.61 159.77 L2163.81 159.32 L2164.02 158.86 L2164.22 158.40 L2164.43 157.95 L2164.63 157.49 L2164.84 157.03 L2165.05 156.58 L2165.25 156.12 L2165.46 155.66 L2165.66 155.21 L2165.87 154.75 L2166.07 154.29 L2166.28 153.83 L2166.48 153.38 L2166.69 152.92 L2166.89 152.46 L2167.10 152.01 L2167.31 151.55 L2167.51 151.09 L2167.72 150.64 L2167.92 150.18 L2168.13 149.72 L2168.33 149.27 M2174.50 135.56 L2174.70 135.10 L2174.91 134.65 L2175.11 134.19 L2175.32 133.73 L2175.52 133.28 L2175.73 132.82 L2175.94 132.36 L2176.14 131.90 L2176.35 131.45 L2176.55 130.99 L2176.76 130.53 L2176.96 130.08 L2177.17 129.62 L2177.37 129.17 L2177.58 128.71 L2177.80 128.26 L2178.01 127.81 L2178.23 127.37 L2178.46 126.92 L2178.68 126.48 L2178.91 126.04 L2179.15 125.60 L2179.38 125.17 L2179.62 124.73 L2179.86 124.30 L2180.11 123.87 L2180.36 123.45 L2180.61 123.02 L2180.87 122.60 L2181.13 122.18 L2181.39 121.76 L2181.66 121.34 L2181.93 120.93 M2193.39 107.16 L2193.72 106.79 L2194.06 106.42 L2194.40 106.05 L2194.74 105.68 L2195.07 105.31 L2195.41 104.94 L2195.75 104.57 L2196.08 104.19 L2196.42 103.82 L2196.76 103.45 L2197.10 103.08 L2197.43 102.71 L2197.77 102.34 L2198.11 101.97 L2198.44 101.60 L2198.78 101.23 L2199.12 100.85 L2199.46 100.48 L2199.79 100.11 L2200.13 99.74 L2200.47 99.37 L2200.80 99.00 L2201.14 98.63 L2201.48 98.26 L2201.82 97.89 L2202.15 97.52 L2202.49 97.14 L2202.83 96.77 L2203.16 96.40 L2203.50 96.03 L2203.84 95.66 L2204.17 95.29 L2204.51 94.92 L2204.85 94.55 L2205.19 94.18 L2205.52 93.81 L2205.86 93.43 L2206.20 93.06 L2206.53 92.69 L2206.87 92.32 M2219.34 78.59 L2219.68 78.22 L2220.02 77.85 L2220.36 77.48 L2220.69 77.11 L2221.03 76.74 L2221.37 76.37 L2221.70 76.00 L2222.04 75.63 L2222.38 75.25 L2222.72 74.88 L2223.05 74.51 L2223.39 74.14 L2223.73 73.77 L2224.06 73.40 L2224.40 73.03 L2224.74 72.66 L2225.08 72.29 L2225.41 71.91 L2225.75 71.54 L2226.09 71.17 L2226.42 70.80 L2226.76 70.43 L2227.10 70.06 L2227.43 69.69 L2227.77 69.32 L2228.11 68.95 L2228.45 68.58 L2228.78 68.20 L2229.12 67.83 L2229.46 67.46 L2229.79 67.09 L2230.13 66.72 L2230.47 66.35 L2230.81 65.98 L2231.14 65.61 L2231.48 65.24 L2231.82 64.87 L2232.15 64.49 L2232.49 64.12 L2232.83 63.75" fill="none" stroke="#0000ff" stroke-width="3.3" stroke-linecap="butt" stroke-linejoin="round"/>
</g>
<rect x="293.1" y="56.4" width="3.6" height="1251.2" fill="#000"/>
<rect x="293.1" y="1304.5" width="1962.2" height="3.2" fill="#000"/>
<rect x="293.1" y="56.4" width="1962.2" height="5.8" fill="#000"/>
<rect x="2249.2" y="56.4" width="6.1" height="1251.2" fill="#000"/>
<text transform="translate(250.0 80.5) scale(1 1.02)" font-size="91.5" text-anchor="end">100</text>
<text transform="translate(250.0 330.0) scale(1 1.02)" font-size="91.5" text-anchor="end">80</text>
<text transform="translate(250.0 580.0) scale(1 1.02)" font-size="91.5" text-anchor="end">60</text>
<text transform="translate(250.0 827.7) scale(1 1.02)" font-size="91.5" text-anchor="end">40</text>
<text transform="translate(250.0 1078.0) scale(1 1.02)" font-size="91.5" text-anchor="end">20</text>
<text transform="translate(250.0 1326.7) scale(1 1.02)" font-size="91.5" text-anchor="end">0</text>
<text transform="translate(214.2 1387.5) scale(1 1.03)" font-size="91.5">0.075</text>
<text transform="translate(900.7 1387.5) scale(1 1.03)" font-size="91.5">0.6</text>
<text transform="translate(1326.1 1387.5) scale(1 1.03)" font-size="91.5">2.36</text>
<text transform="translate(1561.7 1387.5) scale(1 1.03)" font-size="91.5">4.75</text>
<text transform="translate(1823.3 1387.5) scale(1 1.03)" font-size="91.5">9.5</text>
<text transform="translate(2094.3 1387.5) scale(1 1.03)" font-size="91.5">31.5</text>
<text x="975.1" y="1491" font-size="90.7">Grain size (mm)</text>
<text transform="translate(97.4 986.7) rotate(-90) scale(1 1.02)" x="0" y="0" font-size="93">Passing rate (%)</text>
<path d="M392.4 173.5 H596.1 M392.4 286.4 H596.1" stroke="#000" stroke-width="3.3" fill="none"/>
<path d="M495.80 158.70 L507.70 180.70 L483.90 180.70 Z" fill="none" stroke="#000" stroke-width="2.2" stroke-linejoin="miter"/>
<path d="M482.40 279.30 L509.60 279.30 L497.60 303.70 L494.40 303.70 Z" fill="#000"/>
<path d="M391.7 399.9 H408.6 M420.7 399.9 H437.6 M448.1 399.9 H465.0 M476.1 399.9 H493.0 M505.0 399.9 H521.9 M532.4 399.9 H549.3 M559.9 399.9 H576.8 M588.8 399.9 H596.5" stroke="#0000ff" stroke-width="3.3" fill="none"/>
<rect x="490.1" y="393.7" width="12" height="12" fill="#000" stroke="#0000ff" stroke-width="1"/>
<text x="620" y="204.5" font-size="90.5">upper limit</text>
<text x="620" y="315.9" font-size="90.5">lower limit</text>
<text x="620" y="429" font-size="90.5">design value</text>
</svg></body></html>
